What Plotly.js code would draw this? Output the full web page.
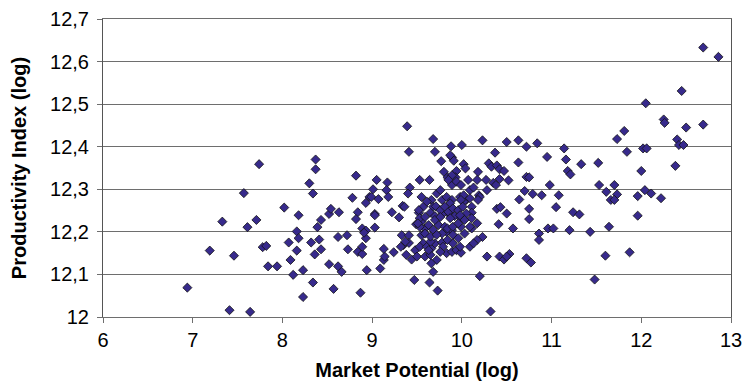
<!DOCTYPE html>
<html>
<head>
<meta charset="utf-8">
<script src="https://cdn.plot.ly/plotly-3.0.1.min.js"></script>
<style>html,body{margin:0;padding:0;background:#fff;}#chart{width:743px;height:389px;}</style>
</head>
<body>
<div id="chart"></div>
<script>
var marketPotential = [
6.94,7.41,7.64,7.19,7.46,7.33,7.61,7.71,7.57,7.74,7.78,7.82,7.84,7.94,8.02,8.07,8.09,8.12,8.16,8.18,
8.16,8.18,8.23,8.23,8.34,8.30,8.34,8.37,8.37,8.32,8.36,8.41,8.43,8.39,8.43,8.52,8.54,8.63,8.52,8.62,
8.66,8.57,8.62,8.72,8.73,8.78,8.82,8.84,8.82,8.87,8.84,8.89,8.89,8.89,8.93,8.93,8.94,8.97,
9.03,8.93,8.91,
9.39,9.41,9.68,9.70,9.88,10.00,9.77,9.89,9.91,10.02,10.23,10.37,10.50,10.63,10.72,10.84,10.95,10.63,10.30,10.33,
10.39,10.42,10.47,10.18,9.80,9.84,9.94,9.93,10.72,10.75,10.42,10.52,10.27,10.35,10.38,10.07,10.17,9.53,9.64,9.42,
9.40,9.05,9.17,9.01,9.16,9.18,8.99,9.07,10.98,10.96,11.02,11.05,10.70,10.79,10.89,10.64,10.75,10.75,10.86,10.86,
10.57,10.39,10.43,10.50,10.41,10.19,10.28,10.20,10.09,10.05,10.17,10.11,10.23,10.17,10.09,10.28,10.42,10.47,10.53,10.50,
10.72,10.77,10.20,10.32,9.47,9.64,9.73,9.68,9.09,9.13,9.14,9.13,9.24,9.03,9.03,9.22,9.30,9.34,9.36,9.33,
9.35,9.41,9.41,9.32,9.38,9.44,9.48,9.49,
9.89,9.89,9.85,9.94,9.87,9.55,9.66,9.72,9.76,9.78,9.83,9.89,9.68,9.57,9.61,9.87,9.98,10.02,9.99,10.13,
10.02,9.99,10.09,10.18,10.11,10.04,
9.52,9.65,9.70,9.79,9.87,9.92,9.55,9.59,9.53,9.74,9.81,9.83,9.78,9.89,9.37,9.55,9.57,9.53,9.61,9.66,
9.70,9.78,9.65,9.50,9.59,9.65,9.72,9.66,9.83,9.89,9.94,
10.11,9.99,9.99,10.09,10.13,9.99,
9.52,9.71,9.76,9.81,9.85,9.90,9.96,10.01,10.05,
9.53,9.59,9.70,9.76,9.87,9.98,10.03,10.11,
9.51,9.63,9.68,9.84,9.90,9.96,
9.59,9.65,9.72,9.90,9.96,10.03,
9.79,9.84,9.90,9.98,9.63,9.76,
12.69,12.86,12.45,12.05,12.25,12.26,12.69,12.50,11.81,11.73,11.84,12.40,12.42,12.47,12.02,12.06,12.38,12.00,11.14,11.16,
11.33,11.52,11.18,11.21,11.08,11.24,11.31,11.53,11.61,11.70,11.73,11.66,11.70,11.96,12.04,12.11,12.22,11.96,11.20,11.43,
11.64,11.60,11.87,11.48
];
var productivityIndex = [
12.069,12.016,12.012,12.156,12.144,12.224,12.211,12.228,12.291,12.359,12.164,12.167,12.119,12.119,12.257,12.175,12.134,12.099,12.201,12.185,
12.156,12.239,12.110,12.047,12.081,12.314,12.290,12.370,12.347,12.175,12.147,12.182,12.159,12.211,12.228,12.242,12.254,12.246,12.124,12.119,
12.106,12.066,12.188,12.192,12.159,12.280,12.332,12.246,12.230,12.057,12.153,12.148,12.165,12.208,12.185,12.268,12.110,12.282,
12.242,12.203,12.198,
12.448,12.388,12.418,12.388,12.401,12.404,12.366,12.375,12.367,12.359,12.415,12.386,12.411,12.415,12.400,12.408,12.376,12.363,12.361,12.353,
12.356,12.347,12.343,12.341,12.341,12.328,12.343,12.328,12.329,12.328,12.324,12.321,12.322,12.315,12.310,12.322,12.322,12.322,12.322,12.304,
12.290,12.322,12.316,12.300,12.298,12.282,12.282,12.277,12.310,12.208,12.208,12.258,12.296,12.289,12.286,12.276,12.254,12.230,12.196,12.181,
12.208,12.254,12.258,12.243,12.218,12.286,12.298,12.282,12.298,12.275,12.220,12.208,12.188,12.181,12.165,12.142,12.142,12.135,12.148,12.142,
12.138,12.128,12.096,12.013,12.087,12.081,12.062,12.106,12.114,12.134,12.142,12.160,12.152,12.210,12.239,12.246,12.234,12.261,12.259,12.192,
12.169,12.192,12.174,12.165,12.146,12.135,12.157,12.218,
12.333,12.310,12.322,12.318,12.380,12.282,12.275,12.290,12.298,12.275,12.282,12.275,12.259,12.259,12.271,12.267,12.282,12.271,12.310,12.304,
12.286,12.275,12.279,12.275,12.259,12.349,
12.245,12.245,12.237,12.243,12.239,12.237,12.224,12.208,12.212,12.216,12.212,12.200,12.196,12.204,12.177,12.192,12.173,12.165,12.165,12.161,
12.173,12.175,12.177,12.142,12.142,12.146,12.134,12.126,12.150,12.153,12.157,
12.245,12.232,12.212,12.212,12.173,12.151,
12.251,12.260,12.251,12.259,12.247,12.255,12.251,12.259,12.243,
12.232,12.235,12.228,12.235,12.232,12.239,12.228,12.232,
12.220,12.216,12.205,12.208,12.212,12.220,
12.196,12.189,12.193,12.193,12.185,12.196,
12.165,12.181,12.173,12.165,12.157,12.153,
12.633,12.611,12.531,12.502,12.464,12.456,12.452,12.445,12.437,12.418,12.388,12.417,12.404,12.404,12.396,12.396,12.355,12.343,12.396,12.370,
12.359,12.362,12.343,12.335,12.286,12.246,12.241,12.310,12.294,12.310,12.288,12.275,12.275,12.284,12.298,12.290,12.279,12.238,12.204,12.200,
12.212,12.144,12.152,12.088
];

var trace = {
  type: 'scatter',
  mode: 'markers',
  x: marketPotential,
  y: productivityIndex,
  marker: {symbol: 'diamond', size: 7, color: '#372a8c', line: {color: '#111', width: 0.8}},
  hoverinfo: 'x+y'
};

var layout = {
  width: 743, height: 389,
  margin: {l: 103, r: 12, t: 19, b: 72, pad: 0},
  paper_bgcolor: '#fff', plot_bgcolor: '#fff',
  separators: ', ',
  showlegend: false,
  font: {family: 'Liberation Sans, Arial, sans-serif', size: 20, color: '#000'},
  xaxis: {
    range: [6, 13], tick0: 6, dtick: 1, showgrid: false, zeroline: false,
    showline: true, linecolor: '#6e6e6e', linewidth: 1, mirror: true,
    ticks: 'outside', ticklen: 5, tickcolor: '#6e6e6e',
    tickfont: {size: 20},
    title: {text: 'Market Potential (log)', font: {size: 20, weight: 'bold'}, standoff: 12}
  },
  yaxis: {
    range: [12, 12.7], tick0: 12, dtick: 0.1, showgrid: true, gridcolor: '#6e6e6e', gridwidth: 1, zeroline: false,
    showline: true, linecolor: '#555', linewidth: 1, mirror: true,
    ticks: 'outside', ticklen: 5, tickcolor: '#6e6e6e',
    tickfont: {size: 20},
    ticklabelstandoff: 4,
    title: {text: 'Productivity Index (log)', font: {size: 20, weight: 'bold'}, standoff: 18}
  }
};

Plotly.newPlot('chart', [trace], layout, {staticPlot: true, displayModeBar: false});
</script>
</body>
</html>
